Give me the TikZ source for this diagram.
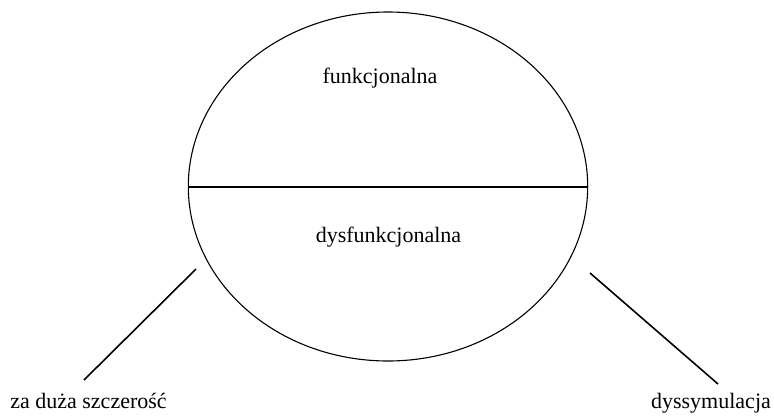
\documentclass[tikz,border=0pt]{standalone}
\usepackage{fontspec}
\newfontfamily\tnr{LiberationSerif-Regular.ttf}
\begin{document}
\begin{tikzpicture}[x=1pt,y=-1pt,
  lbl/.style={inner sep=0pt,anchor=base,font=\tnr\fontsize{22}{26}\selectfont},
  thick line/.style={line width=1.6pt},
  ell/.style={line width=1.1pt}]
\useasboundingbox (0,0) rectangle (774,418);
\draw[ell] (388,186.5) ellipse [x radius=199.7, y radius=174.5];
\coordinate (hl) at (188.5,186.8);
\coordinate (hr) at (587.5,186.8);
\draw[thick line] (hl) -- (hr);
\node[lbl] (f) at (380,83) {funkcjonalna};
\node[lbl] (d) at (388.5,242) {dysfunkcjonalna};
\coordinate (l1) at (196,269);
\coordinate (l2) at (84,380);
\coordinate (r1) at (590,273);
\coordinate (r2) at (718,384);
\draw[thick line] (l1) -- (l2);
\draw[thick line] (r1) -- (r2);
\node[lbl] (za) at (88.5,408) {za duża szczerość};
\node[lbl] (dy) at (711,408) {dyssymulacja};
\end{tikzpicture}
\end{document}
